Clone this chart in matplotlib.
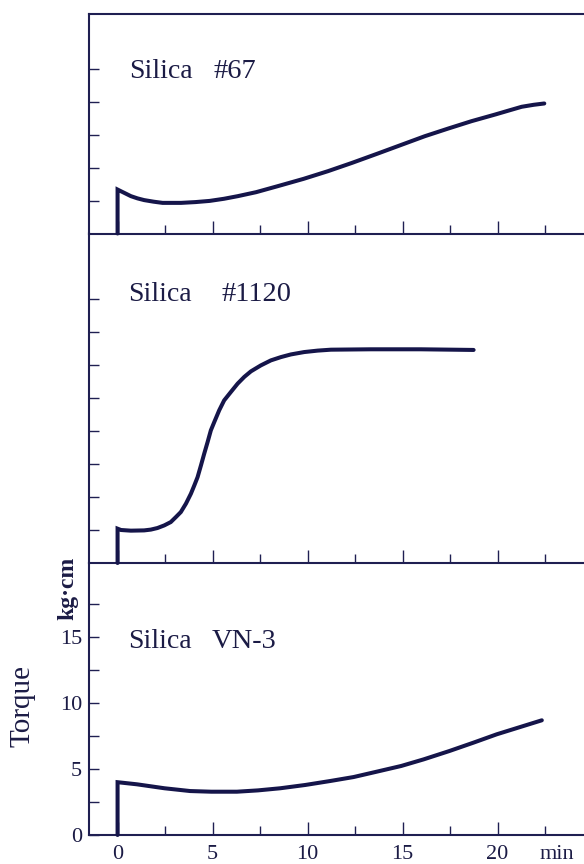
import matplotlib
matplotlib.use("Agg")
import matplotlib.pyplot as plt
from matplotlib.ticker import FixedLocator, NullFormatter

# Cure curves: time (min) vs. torque (kg·cm) for three silica grades
time_67 = [0, 0, 0.18, 0.35, 0.7, 1.05, 1.4, 1.9, 2.37, 3.34, 4.1, 4.85, 5.6, 6.33,
           7.29, 8.44, 9.79, 11.07, 12.34, 13.7, 14.85, 16.17, 17.4, 18.63,
           19.89, 20.6, 21.27, 21.9, 22.46]
torque_67 = [0, 3.33, 3.2, 3.08, 2.83, 2.66, 2.53, 2.41, 2.32, 2.32, 2.38, 2.47, 2.63, 2.83,
             3.13, 3.59, 4.14, 4.72, 5.35, 6.06, 6.67, 7.37, 7.95, 8.51,
             9.02, 9.32, 9.6, 9.75, 9.85]

time_1120 = [0, 0, 0.18, 0.7, 1.4, 1.75, 2.1, 2.46, 2.8, 3.07, 3.33, 3.6, 3.86, 4.04,
             4.21, 4.39, 4.56, 4.74, 4.91, 5.09, 5.35, 5.61, 5.96, 6.32, 6.67,
             7.02, 7.54, 8.07, 8.6, 9.12, 9.82, 10.53, 11.23, 13.33, 15.96, 18.74]
torque_1120 = [0, 2.6, 2.5, 2.45, 2.47, 2.53, 2.65, 2.85, 3.1, 3.48, 3.86, 4.5, 5.25, 5.88,
               6.5, 7.4, 8.28, 9.17, 10.05, 10.68, 11.57, 12.32, 12.95, 13.59, 14.1,
               14.52, 14.97, 15.35, 15.6, 15.8, 15.98, 16.09, 16.16, 16.19, 16.19, 16.14]

time_vn3 = [0, 0, 1.02, 2.47, 3.82, 4.93, 6.28, 7.39, 8.56, 9.88, 11.19, 12.42,
            13.65, 14.93, 16.11, 17.46, 18.74, 19.96, 21.19, 22.33]
torque_vn3 = [0, 4.0, 3.84, 3.54, 3.33, 3.28, 3.28, 3.38, 3.54, 3.79, 4.09, 4.39,
              4.8, 5.23, 5.73, 6.36, 7.0, 7.63, 8.18, 8.69]

sample_names = ["Silica", "Silica", "Silica"]
grades = ["#67", "#1120", "VN-3"]

x_major = [0, 5, 10, 15, 20]
x_minor = [2.5, 7.5, 12.5, 17.5, 22.5]
x_tick_labels = ["0", "5", "10", "15", "20"]
x_unit = "min"
x_unit_pos = 23.13

y_major_bottom = [0, 5, 10, 15]
y_minor_bottom = [2.5, 7.5, 12.5, 17.5]
y_tick_labels = ["0", "5", "10", "15"]
y_ticks_top = [2.5, 5, 7.5, 10, 12.5]
y_ticks_mid = [2.5, 5, 7.5, 10, 12.5, 15, 17.5, 20]

INK = "#15154a"
AXC = "#1f1f52"
TXT = "#1b1b45"
SERIF = "Liberation Serif"

W, H = 584, 864
fig = plt.figure(figsize=(W / 100, H / 100), dpi=100)
fig.patch.set_facecolor("white")


def px_box(left, top, right, bottom):
    return [left / W, 1 - bottom / H, (right - left) / W, (bottom - top) / H]


XMIN, XMAX = -1.53, 24.55
ax_top = fig.add_axes(px_box(88.5, 13.5, 584, 233.5))
ax_mid = fig.add_axes(px_box(88.5, 233.5, 584, 563))
ax_bot = fig.add_axes(px_box(88.5, 563, 584, 835))

panels = [
    (ax_top, 220 / 13.2, time_67, torque_67),
    (ax_mid, 329.5 / 13.2, time_1120, torque_1120),
    (ax_bot, 272 / 13.2, time_vn3, torque_vn3),
]

for ax, ymax, t, tq in panels:
    ax.set_xlim(XMIN, XMAX)
    ax.set_ylim(0, ymax)
    ax.patch.set_alpha(0)
    ax.plot(t, tq, color=INK, lw=2.9, solid_joinstyle="miter",
            solid_capstyle="round", clip_on=False, zorder=3)
    for side in ("left", "bottom", "top"):
        ax.spines[side].set_color(AXC)
        ax.spines[side].set_linewidth(1.5)
    ax.spines["right"].set_visible(False)
    ax.xaxis.set_major_locator(FixedLocator(x_major))
    ax.xaxis.set_minor_locator(FixedLocator(x_minor))
    ax.tick_params(axis="x", which="major", direction="in", length=9.4,
                   width=1.0, color=AXC, top=False)
    ax.tick_params(axis="x", which="minor", direction="in", length=6.2,
                   width=1.0, color=AXC, top=False)
    ax.tick_params(axis="y", which="both", direction="in", length=7.2,
                   width=1.0, color=AXC, right=False)

for ax in (ax_top, ax_mid):
    ax.spines["top"].set_visible(ax is ax_top)
    ax.xaxis.set_major_formatter(NullFormatter())
    ax.set_yticks(y_ticks_top if ax is ax_top else y_ticks_mid)
    ax.yaxis.set_major_formatter(NullFormatter())
ax_bot.spines["top"].set_visible(False)

# bottom panel carries the scales
ax_bot.set_xticks(x_major + [x_unit_pos])
ax_bot.set_xticklabels(x_tick_labels + [x_unit])
ax_bot.xaxis.get_major_ticks()[-1].tick1line.set_visible(False)
ax_bot.set_yticks(y_major_bottom)
ax_bot.set_yticks(y_minor_bottom, minor=True)
ax_bot.set_yticklabels(y_tick_labels)
ax_bot.tick_params(axis="x", which="major", pad=7.0, labelsize=16,
                   labelcolor=TXT)
ax_bot.tick_params(axis="y", which="major", pad=4.5, labelsize=16,
                   labelcolor=TXT)
for lab in ax_bot.get_xticklabels() + ax_bot.get_yticklabels():
    lab.set_fontfamily(SERIF)

# panel titles
title_pos = [(129.3, 213, 78.3), (128.5, 221, 300.7), (128.5, 212, 648.3)]
for name, grade, (xn, xg, yb) in zip(sample_names, grades, title_pos):
    fig.text(xn / W, 1 - yb / H, name, family=SERIF, fontsize=20,
             color=TXT, ha="left", va="baseline")
    fig.text(xg / W, 1 - yb / H, grade, family=SERIF, fontsize=20.5,
             color=TXT, ha="left", va="baseline")

# axis title
fig.text(23 / W, 1 - 706 / H, "Torque", family=SERIF, fontsize=21,
         color=TXT, rotation=90, ha="center", va="center")
fig.text(68 / W, 1 - 588 / H, "kg\u00b7cm", family=SERIF, fontsize=17,
         fontweight="bold", color=TXT, rotation=90, ha="center", va="center")

fig.savefig("out.png", dpi=100, facecolor="white")
